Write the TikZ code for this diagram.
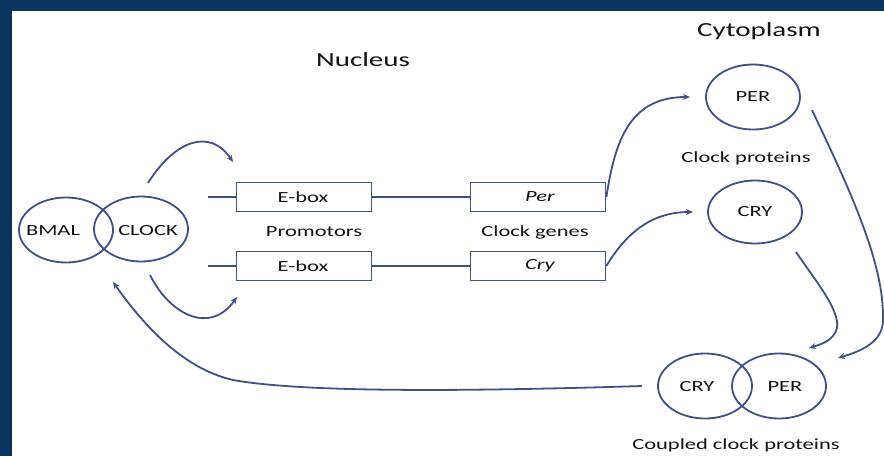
\documentclass[tikz,border=0pt]{standalone}
\usepackage{fontspec}
\setmainfont{Carlito}[FakeStretch=1.45]
\usetikzlibrary{shapes.geometric,arrows.meta}
\definecolor{navy}{RGB}{11,52,96}
\definecolor{lncol}{RGB}{66,80,136}
\definecolor{txt}{RGB}{20,20,20}
\begin{document}
\begin{tikzpicture}[x=1pt,y=-1pt,
 ell/.style={draw=lncol,line width=1.8pt,ellipse,minimum width=94pt,minimum height=65pt,inner sep=0},
 genebox/.style={draw=lncol,line width=1.8pt,rectangle,minimum width=135pt,minimum height=29pt,inner sep=0},
 lbl/.style={text=txt,font=\fontsize{15.5}{18}\selectfont,inner sep=0},
 ttl/.style={text=txt,font=\fontsize{20}{24}\selectfont,inner sep=0},
 wire/.style={draw=lncol,line width=1.8pt},
 arr/.style={draw=lncol,line width=1.8pt,-{Stealth[length=7pt,width=6pt]}}]
\fill[navy] (0,0) rectangle (884,456);
\fill[white] (12,11) rectangle (884,456);
\useasboundingbox (0,0) rectangle (884,456);

% titles
\node[ttl] (nucleus) at (363,60) {Nucleus};
\node[ttl] (cyto) at (759,31) {Cytoplasm};

% BMAL / CLOCK
\node[ell] (bmal) at (66,230) {};
\node[ell] (clock) at (141,229) {};
\node[lbl] (bmalt) at (53,231) {BMAL};
\node[lbl] (clockt) at (148,231) {CLOCK};

% genes
\node[genebox] (eb1) at (304,197) {};
\node[genebox] (per) at (538,197) {};
\node[genebox] (eb2) at (304,266) {};
\node[genebox] (cry) at (538,266) {};
\node[lbl] (eb1t) at (303,197) {E-box};
\node[lbl] (eb2t) at (303,266) {E-box};
\node[lbl] (pert) at (540,197) {\itshape Per};
\node[lbl] (cryt) at (540,266) {\itshape Cry};
\node[lbl] (prom) at (314,232) {Promotors};
\node[lbl] (cgen) at (535,232) {Clock genes};

\coordinate (l1) at (208,197);
\coordinate (l2) at (208,266);
\draw[wire] (l1) -- (eb1.west);
\draw[wire] (l2) -- (eb2.west);
\draw[wire] (eb1.east) -- (per.west);
\draw[wire] (eb2.east) -- (cry.west);

% proteins
\node[ell] (perp) at (753,97) {};
\node[lbl] (perpt) at (753,97) {PER};
\node[lbl] (cprot) at (746,158) {Clock proteins};
\node[ell,minimum height=63pt] (cryp) at (755,212) {};
\node[lbl] (crypt) at (755,212) {CRY};

\node[ell] (ccry) at (705,386) {};
\node[ell] (cper) at (779,386) {};
\node[lbl] (ccryt) at (697,387) {CRY};
\node[lbl] (cpert) at (785,387) {PER};
\node[lbl] (coup) at (736,445) {Coupled clock proteins};

% arrows
\coordinate (a1s) at (148,183);
\coordinate (a1e) at (233,162);
\draw[arr] (a1s) .. controls (175,140) and (210,128) .. (a1e);
\coordinate (a2s) at (150,275);
\coordinate (a2e) at (237,297);
\draw[arr] (a2s) .. controls (170,315) and (210,335) .. (a2e);

\coordinate (a3e) at (690,97);
\draw[arr] (per.east) .. controls (615,140) and (630,97) .. (a3e);
\coordinate (a4e) at (693,212);
\draw[arr] (cry.east) .. controls (625,235) and (650,212) .. (a4e);

\coordinate (a5s) at (812,110);
\coordinate (a5m) at (883,318);
\coordinate (a5e) at (838,358);
\draw[arr] (a5s) .. controls (845,180) and (884,260) .. (a5m) .. controls (884,340) and (865,350) .. (a5e);

\coordinate (a6s) at (796,252);
\coordinate (a6m) at (837,328);
\coordinate (a6e) at (809,348);
\draw[arr] (a6s) .. controls (815,280) and (840,310) .. (a6m) .. controls (834,340) and (822,344) .. (a6e);

\coordinate (a7s) at (642,386);
\coordinate (a7m) at (233,380);
\coordinate (a7e) at (113,282);
\draw[arr] (a7s) .. controls (450,392) and (300,392) .. (a7m) .. controls (180,368) and (140,320) .. (a7e);
\end{tikzpicture}
\end{document}
